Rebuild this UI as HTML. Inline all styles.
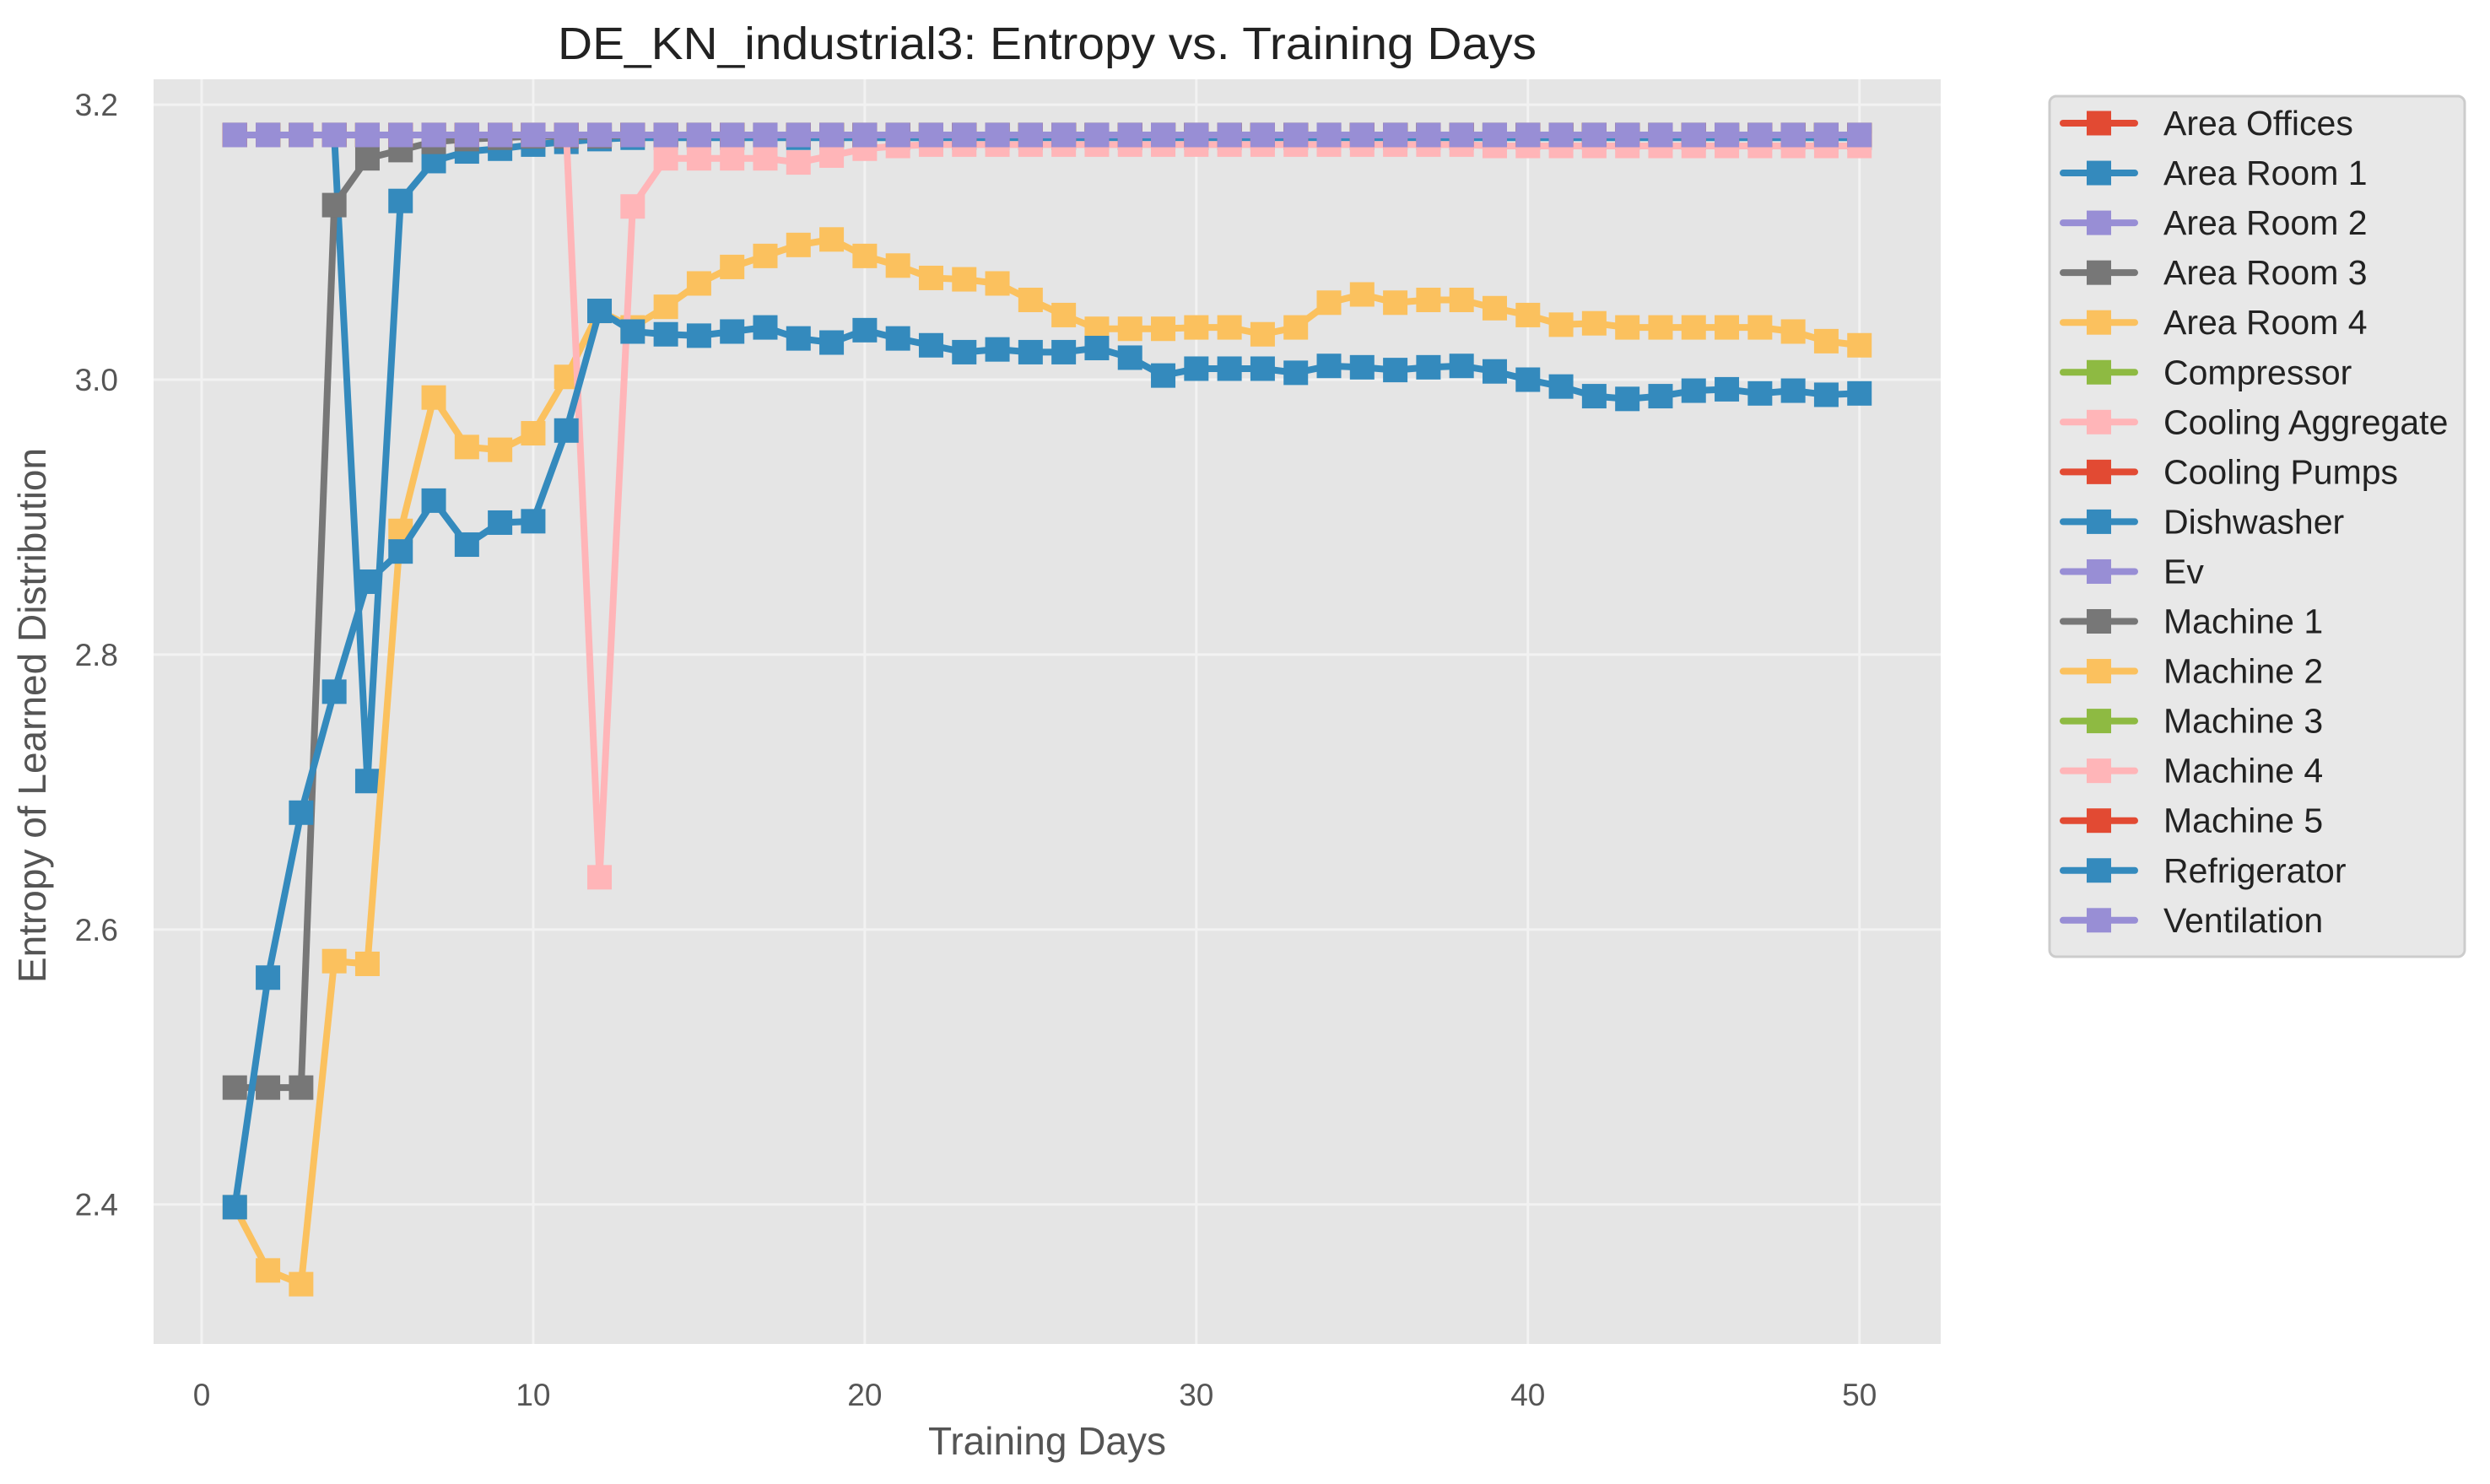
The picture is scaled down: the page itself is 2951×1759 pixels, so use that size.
<!DOCTYPE html>
<html><head><meta charset="utf-8">
<style>
html,body{margin:0;padding:0;background:#fff;}
svg{display:block;font-family:"Liberation Sans",sans-serif;}
</style></head>
<body>
<svg id="chart" width="2951" height="1759" viewBox="0 0 2951 1759" xmlns="http://www.w3.org/2000/svg">
<rect x="0" y="0" width="2951" height="1759" fill="#ffffff"/>
<rect x="182" y="94" width="2118" height="1499" fill="#E5E5E5"/>
<g id="grid"></g>
<g id="series"></g>
<g id="ticks"></g>
<text x="1241" y="70" text-anchor="middle" font-size="54" textLength="1160" lengthAdjust="spacingAndGlyphs" fill="#222">DE_KN_industrial3: Entropy vs. Training Days</text>
<text x="1241" y="1724" text-anchor="middle" font-size="46" fill="#555">Training Days</text>
<text x="0" y="0" transform="translate(54,848) rotate(-90)" text-anchor="middle" font-size="46" fill="#555">Entropy of Learned Distribution</text>
<g id="legend"></g>
</svg>
<script>
const days = Array.from({length:50},(_,i)=>i+1);
const seriesNames = ["Area Offices","Area Room 1","Area Room 2","Area Room 3","Area Room 4","Compressor","Cooling Aggregate","Cooling Pumps","Dishwasher","Ev","Machine 1","Machine 2","Machine 3","Machine 4","Machine 5","Refrigerator","Ventilation"];
const seriesColors = ["#E24A33","#348ABD","#988ED5","#777777","#FBC15E","#8EBA42","#FFB5B8","#E24A33","#348ABD","#988ED5","#777777","#FBC15E","#8EBA42","#FFB5B8","#E24A33","#348ABD","#988ED5"];
const flatValues = Array(50).fill(3.178);
const dishwasherValues = [3.178,3.178,3.178,3.178,2.708,3.13,3.159,3.166,3.168,3.171,3.173,3.175,3.176,3.176,3.176,3.176,3.176,3.176,3.176,3.176,3.176,3.176,3.176,3.176,3.176,3.176,3.176,3.176,3.176,3.176,3.176,3.176,3.176,3.176,3.176,3.176,3.176,3.176,3.176,3.176,3.176,3.176,3.176,3.176,3.176,3.176,3.176,3.176,3.176,3.176];
const machine1Values = [2.485,2.485,2.485,3.127,3.161,3.167,3.173,3.175,3.176,3.177,3.177,3.177,3.178,3.178,3.178,3.178,3.178,3.178,3.178,3.178,3.178,3.178,3.178,3.178,3.178,3.178,3.178,3.178,3.178,3.178,3.178,3.178,3.178,3.178,3.178,3.178,3.178,3.178,3.178,3.178,3.178,3.178,3.178,3.178,3.178,3.178,3.178,3.178,3.178,3.178];
const machine2Values = [2.398,2.352,2.342,2.577,2.575,2.89,2.987,2.951,2.949,2.961,3.002,3.05,3.038,3.053,3.07,3.082,3.09,3.098,3.102,3.09,3.083,3.074,3.073,3.07,3.058,3.047,3.037,3.037,3.037,3.038,3.038,3.033,3.038,3.056,3.062,3.056,3.058,3.058,3.052,3.047,3.04,3.041,3.038,3.038,3.038,3.038,3.038,3.035,3.028,3.025];
const machine4Values = [3.178,3.178,3.178,3.178,3.178,3.178,3.178,3.178,3.178,3.178,3.178,2.638,3.126,3.161,3.161,3.161,3.161,3.158,3.163,3.168,3.17,3.171,3.171,3.171,3.171,3.171,3.171,3.171,3.171,3.171,3.171,3.171,3.171,3.171,3.171,3.171,3.171,3.171,3.17,3.17,3.17,3.17,3.17,3.17,3.17,3.17,3.17,3.17,3.17,3.17];
const refrigeratorValues = [2.398,2.565,2.685,2.773,2.853,2.875,2.912,2.88,2.896,2.897,2.963,3.05,3.035,3.033,3.032,3.035,3.038,3.03,3.027,3.036,3.03,3.025,3.02,3.022,3.02,3.02,3.023,3.016,3.003,3.008,3.008,3.008,3.005,3.01,3.009,3.007,3.009,3.01,3.006,3.0,2.995,2.988,2.986,2.988,2.992,2.993,2.99,2.992,2.989,2.99];
const seriesValues = [flatValues,flatValues,flatValues,flatValues,flatValues,flatValues,flatValues,flatValues,dishwasherValues,flatValues,machine1Values,machine2Values,flatValues,machine4Values,flatValues,refrigeratorValues,flatValues];
const xTicks = [0,10,20,30,40,50];
const yTicks = [2.4,2.6,2.8,3.0,3.2];
const yTickLabels = ["2.4","2.6","2.8","3.0","3.2"];

const NS="http://www.w3.org/2000/svg";
const L=182,R=2300,T=94,B=1593;
const xMin=-1.45,xMax=52.45,yMin=2.2985,yMax=3.2185;
const xs=v=>L+(v-xMin)/(xMax-xMin)*(R-L);
const ys=v=>B-(v-yMin)/(yMax-yMin)*(B-T);
function mk(tag,attrs,parent){const e=document.createElementNS(NS,tag);for(const k in attrs)e.setAttribute(k,attrs[k]);parent.appendChild(e);return e;}
const grid=document.getElementById('grid'),ticks=document.getElementById('ticks');
xTicks.forEach(t=>{
  const g=mk('line',{x1:xs(t),x2:xs(t),y1:T,y2:B,stroke:'#F2F2F2','stroke-width':3},grid);
  
  
  const tx=mk('text',{x:xs(t),y:1666,'text-anchor':'middle','font-size':37,fill:'#555'},ticks);
  tx.textContent=String(t);
  
  
});
yTicks.forEach((t,i)=>{
  const g=mk('line',{x1:L,x2:R,y1:ys(t),y2:ys(t),stroke:'#F2F2F2','stroke-width':3},grid);
  
  
  const tx=mk('text',{x:140,y:ys(t)+13,'text-anchor':'end','font-size':37,fill:'#555'},ticks);
  tx.textContent=yTickLabels[i];
  
  
});
const sg=document.getElementById('series');
seriesNames.forEach((name,si)=>{
  const vals=seriesValues[si],col=seriesColors[si];
  const g=mk('g',{},sg);
  
  
  const pts=days.map((d,i)=>xs(d)+','+ys(vals[i])).join(' ');
  const pl=mk('polyline',{points:pts,fill:'none',stroke:col,'stroke-width':8,'stroke-linejoin':'round','stroke-linecap':'round'},g);
  
  
  days.forEach((d,i)=>{
    const m=mk('rect',{x:xs(d)-14.5,y:ys(vals[i])-14.5,width:29,height:29,fill:col},g);
    
    
  });
});
const lg=document.getElementById('legend');
mk('rect',{x:2429,y:114,width:492,height:1020,rx:8,fill:'#E8E8E8',stroke:'#CCCCCC','stroke-width':3},lg);
seriesNames.forEach((name,i)=>{
  const cy=146+i*59.05;
  const e=mk('g',{},lg);
  
  
  mk('line',{x1:2445,x2:2530,y1:cy,y2:cy,stroke:seriesColors[i],'stroke-width':8,'stroke-linecap':'round'},e);
  mk('rect',{x:2473,y:cy-14.5,width:29,height:29,fill:seriesColors[i]},e);
  const t=mk('text',{x:2564,y:cy+14,'font-size':41,fill:'#222'},e);
  t.textContent=name;
});
</script>
</body></html>
